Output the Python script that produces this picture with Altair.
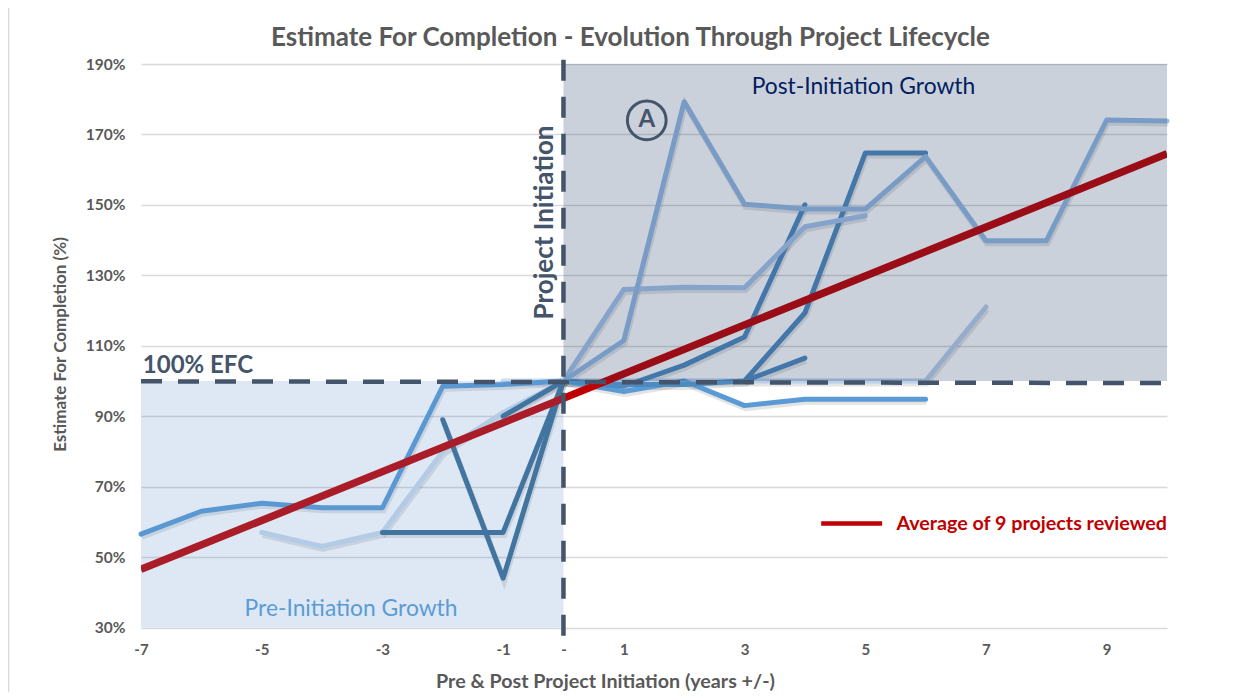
import altair as alt
import pandas as pd

FONT = "Lato"
x_ticks = [-7, -5, -3, -1, 0, 1, 3, 5, 7, 9]
y_ticks = [30, 50, 70, 90, 110, 130, 150, 170, 190]

# name, colour, width, xs, ys
series = [
    ("G1", "#CCDBED", 5, [-5, -4, -3, -2, -1, 0], [57, 53, 57, 80, 91, 100]),
    ("G2", "#BBCFEA", 5, [0, 1, 2, 3, 4, 5, 6, 7], [100, 100, 100, 100, 100, 100, 100, 121]),
    ("I", "#CADAF0", 5, [-1, 0], [100, 100]),
    ("F", "#5B9BD5", 5, [-7, -6, -5, -4, -3, -2, -1, 0, 1, 2, 3, 4, 5, 6],
     [56.5, 63, 65.3, 64, 64, 98.5, 99, 100, 97, 100, 93, 94.8, 94.8, 94.8]),
    ("H", "#3C6E95", 5, [-3, -2, -1, 0], [57, 57, 57, 100]),
    ("J", "#3C6E95", 5, [-2, -1, 0], [89, 44, 100]),
    ("K", "#3C6E95", 5, [-1, 0], [90, 100]),
    ("C", "#4E8ABE", 5, [0, 1, 2, 3, 4], [100, 98.5, 104.5, 112.5, 150]),
    ("D", "#4E8ABE", 5, [0, 1, 2, 3, 4, 5, 6], [100, 99, 99, 100, 119.3, 164.7, 164.7]),
    ("E", "#4E8ABE", 5, [3, 4], [100, 106.5]),
    ("B", "#A4C3EB", 5, [0, 1, 2, 3, 4, 5], [100, 126, 126.6, 126.5, 143.8, 146.9]),
    ("A", "#95BAE6", 5, [0, 1, 2, 3, 4, 5, 6, 7, 8, 9, 10],
     [100, 111.5, 179.3, 150.2, 148.8, 148.8, 163.7, 139.8, 139.8, 174.1, 173.8]),
]
avg_x = [-7, 10]
avg_y = [46.5, 164.5]

xs = alt.Scale(domain=[-7, 10], nice=False, zero=False)
ys = alt.Scale(domain=[30, 190], nice=False, zero=False)
X = alt.X("x:Q", scale=xs, title="Pre & Post Project Initiation (years +/-)",
          axis=alt.Axis(values=x_ticks, grid=False, domain=False, ticks=False,
                        labelExpr="datum.value == 0 ? '-' : '' + datum.value",
                        labelFont=FONT, labelFontWeight="bold", labelFontSize=15,
                        labelColor="#595959", labelPadding=15, labelFlush=False,
                        titleFont=FONT, titleFontWeight="bold", titleFontSize=19.7,
                        titleColor="#595959", titleX=464, titleY=44))
Y = alt.Y("y:Q", scale=ys, title="Estimate For Completion (%)",
          axis=alt.Axis(values=y_ticks, grid=True, gridColor="#D9D9D9", gridWidth=1.5,
                        domain=False, ticks=False, labelExpr="datum.value + '%'",
                        labelFont=FONT, labelFontWeight="bold", labelFontSize=15.5,
                        labelColor="#595959", labelPadding=16,
                        titleFont=FONT, titleFontWeight="bold", titleFontSize=17,
                        titleColor="#595959", titleX=-72, titleY=280))

layers = []
for name, color, w, sx, sy in series:
    df = pd.DataFrame({"x": sx, "y": sy})
    layers.append(alt.Chart(df).mark_line(color="#404040", strokeWidth=w + 1, opacity=0.14,
                                          yOffset=2.5, xOffset=1).encode(x=X, y=Y))
for name, color, w, sx, sy in series:
    df = pd.DataFrame({"x": sx, "y": sy})
    layers.append(alt.Chart(df).mark_line(color=color, strokeWidth=w, strokeJoin="round",
                                          strokeCap="round").encode(x=X, y=Y))

avg = pd.DataFrame({"x": avg_x, "y": avg_y})
layers.append(alt.Chart(avg).mark_line(color="#C00000", strokeWidth=7.5, clip=True).encode(x=X, y=Y))

# translucent quadrant panels lie above the lines, as in the source
pre = pd.DataFrame({"x": [-7], "x2": [0], "y": [30], "y2": [100]})
post = pd.DataFrame({"x": [0], "x2": [10], "y": [100], "y2": [190]})
layers.append(alt.Chart(pre).mark_rect(color="#558CC8", opacity=0.2).encode(
    x=X, x2="x2:Q", y=Y, y2="y2:Q"))
layers.append(alt.Chart(post).mark_rect(color="#1F3864", opacity=0.23).encode(
    x=X, x2="x2:Q", y=Y, y2="y2:Q"))

# dashed reference lines
efc = pd.DataFrame({"x": [-7, 10], "y": [99.9, 99.4]})
layers.append(alt.Chart(efc).mark_line(color="#44546A", strokeWidth=4.5, strokeDash=[21, 16]).encode(x=X, y=Y))
init = pd.DataFrame({"x": [0, 0], "y": [191.2, 27]})
layers.append(alt.Chart(init).mark_line(color="#44546A", strokeWidth=4.5, strokeDash=[21, 16], clip=False,
                                        order=False).encode(x=X, y=Y))

# legend swatch
leg = pd.DataFrame({"x": [4.27, 5.28], "y": [59.5, 59.5]})
layers.append(alt.Chart(leg).mark_line(color="#C00000", strokeWidth=4.5).encode(x=X, y=Y))


def label(x, y, text, color, size, weight="normal", angle=0, align="center"):
    df = pd.DataFrame({"x": [x], "y": [y], "t": [text]})
    return alt.Chart(df).mark_text(font=FONT, fontSize=size, fontWeight=weight, color=color,
                                   angle=angle, align=align, baseline="middle").encode(
        x=X, y=Y, text="t:N")


layers += [
    label(-0.31, 145, "Project Initiation", "#44546A", 26, "bold", 270),
    label(-6.97, 104.3, "100% EFC", "#44546A", 24, "bold", align="left"),
    label(4.97, 183.4, "Post-Initiation Growth", "#002060", 22.8),
    label(-3.52, 35.2, "Pre-Initiation Growth", "#5B9BD5", 22.8),
    label(1.38, 174, "A", "#44546A", 24, "bold"),
    label(10, 59.5, "Average of 9 projects reviewed", "#C00000", 19.7, "bold", align="right"),
]
circ = pd.DataFrame({"x": [1.38], "y": [174]})
layers.append(alt.Chart(circ).mark_point(shape="circle", size=1500, filled=False, color="#44546A",
                                         strokeWidth=3, opacity=1).encode(x=X, y=Y))

# title
title_df = pd.DataFrame({"x": [1.11], "y": [197.5], "t": ["Estimate For Completion - Evolution Through Project Lifecycle"]})
layers.append(alt.Chart(title_df).mark_text(font=FONT, fontSize=26, fontWeight="bold", color="#595959",
                                            align="center", baseline="middle", clip=False).encode(
    x=X, y=Y, text="t:N"))

# left edge of the chart frame
layers.append(alt.Chart(pd.DataFrame({"x": [0]})).mark_rule(color="#D9D9D9", strokeWidth=1.5).encode(
    x=alt.value(-132.5), y=alt.value(-56), y2=alt.value(630)))

chart = alt.layer(*layers).properties(
    width=1026, height=563.5, background="white",
    autosize=alt.AutoSizeParams(type="none"),
    padding={"left": 133, "top": 56, "right": 70, "bottom": 64},
).configure_view(strokeWidth=0)

chart.save("out.html", embed_options={"renderer": "svg", "actions": False})
